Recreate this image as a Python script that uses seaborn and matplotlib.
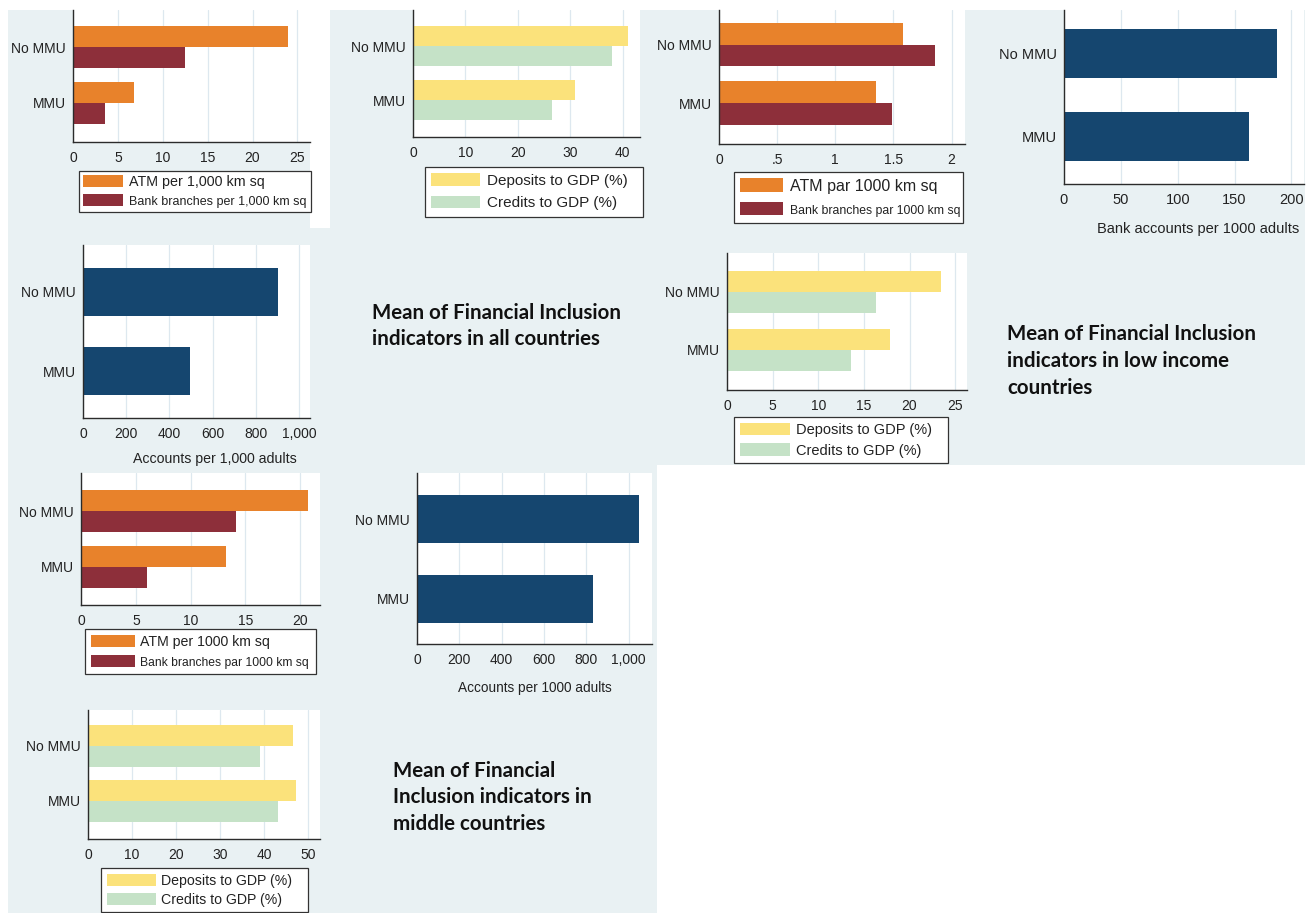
import numpy as np
import pandas as pd
import matplotlib
matplotlib.use("Agg")
import matplotlib.pyplot as plt
from matplotlib.patches import Rectangle, Patch
from matplotlib.ticker import FuncFormatter
import seaborn as sns

W, H = 1314, 913

groups = ["No MMU", "MMU"]

# all countries
atm_all = [23.9, 6.75]
branches_all = [12.5, 3.55]
deposits_all = [41.0, 30.9]
credits_all = [37.9, 26.6]
accounts_all = [900, 497]

# low income countries
atm_low = [1.58, 1.35]
branches_low = [1.86, 1.485]
deposits_low = [23.5, 17.9]
credits_low = [16.3, 13.6]
accounts_low = [187.5, 162.4]

# middle income countries
atm_mid = [20.7, 13.2]
branches_mid = [14.15, 6.0]
deposits_mid = [46.6, 47.2]
credits_mid = [39.1, 43.2]
accounts_mid = [1047, 829]

# colours (Stata s2color look)
ORANGE = "#e8822b"
MAROON = "#8d2f3a"
NAVY = "#15466f"
YELLOW = "#fbe27b"
GREEN = "#c5e2c7"
BG = "#e9f1f3"
GRID = "#dde8ef"
AXIS = "#2b2b2b"

sns.set_style("white")
plt.rcParams["font.family"] = ["Liberation Sans", "DejaVu Sans"]

fig = plt.figure(figsize=(W / 100, H / 100), dpi=100)
fig.patch.set_facecolor("white")


def px_rect(l, t, r, b):
    return [l / W, 1 - b / H, (r - l) / W, (b - t) / H]


# grey-blue graph regions behind the panels
for l, t, r, b, c in [(8, 10, 1305, 465, BG), (8, 465, 657, 913, BG),
                      (310, 0, 330, 228, "white")]:
    x, y, w, h = px_rect(l, t, r, b)
    fig.patches.append(Rectangle((x, y), w, h, transform=fig.transFigure,
                                 facecolor=c, edgecolor="none", zorder=-10))


def style_axes(ax, xmax, ticks, ylim, comma=False, labels=None, fs=10):
    ax.set_facecolor("white")
    ax.set_xlim(0, xmax)
    ax.set_ylim(*ylim)
    ax.set_xticks(ticks)
    if labels is not None:
        ax.set_xticklabels(labels)
    elif comma:
        ax.xaxis.set_major_formatter(FuncFormatter(lambda v, p: f"{v:,.0f}"))
    else:
        ax.xaxis.set_major_formatter(FuncFormatter(lambda v, p: f"{v:g}"))
    ax.xaxis.grid(True, color=GRID, lw=0.9)
    ax.yaxis.grid(False)
    ax.set_axisbelow(True)
    sns.despine(ax=ax)
    for s in ["left", "bottom"]:
        ax.spines[s].set_color(AXIS)
        ax.spines[s].set_linewidth(1.0)
    ax.tick_params(axis="x", length=4, width=0.9, color=AXIS, pad=2.5,
                   labelsize=fs, labelcolor="#222222")
    ax.tick_params(axis="y", length=0, pad=5, labelsize=fs, labelcolor="#222222")
    ax.set_xlabel("")
    ax.set_ylabel("")


def add_legend(ax, names, colors, box, sizes, swatch_px, spacing, pad):
    l, t, r = box
    fs_px = sizes[0] * 100 / 72
    handles = [Patch(facecolor=c, edgecolor="none") for c in colors]
    leg = ax.legend(handles, names, loc="upper left",
                    bbox_to_anchor=(l / W, 1 - t / H, (r - l) / W, 0),
                    bbox_transform=fig.transFigure, mode="expand",
                    frameon=True, fancybox=False, edgecolor="#333333",
                    facecolor="white", framealpha=1, fontsize=sizes[0],
                    handlelength=swatch_px / fs_px, handleheight=0.9,
                    handletextpad=0.4, labelspacing=spacing, borderpad=pad,
                    borderaxespad=0)
    for txt, s in zip(leg.get_texts(), sizes):
        txt.set_fontsize(s)
        txt.set_color("#222222")
    leg.get_frame().set_linewidth(0.9)


def grouped_panel(rect, a, b, names, colors, xmax, ticks, ylim, width,
                  legend_box, sizes, swatch_px, spacing, pad, labels=None):
    ax = fig.add_axes(px_rect(*rect))
    df = pd.DataFrame({"group": groups * 2,
                       "value": list(a) + list(b),
                       "series": [names[0]] * 2 + [names[1]] * 2})
    sns.barplot(data=df, x="value", y="group", hue="series", hue_order=names,
                palette=colors, orient="h", width=width, saturation=1,
                linewidth=0, legend=False, ax=ax)
    style_axes(ax, xmax, ticks, ylim, labels=labels)
    add_legend(ax, names, colors, legend_box, sizes, swatch_px, spacing, pad)
    return ax


def single_panel(rect, vals, xmax, ticks, ylim, width, xlabel, label_px,
                 label_size, comma=False, fs=10):
    ax = fig.add_axes(px_rect(*rect))
    df = pd.DataFrame({"group": groups, "value": vals})
    sns.barplot(data=df, x="value", y="group", color=NAVY, orient="h",
                width=width, saturation=1, linewidth=0, ax=ax)
    style_axes(ax, xmax, ticks, ylim, comma=comma, fs=fs)
    l, t, r, b = rect
    ax.set_xlabel(xlabel, fontsize=label_size, color="#222222")
    ax.xaxis.set_label_coords((label_px[0] - l) / (r - l),
                              -(label_px[1] - b) / (b - t))
    return ax


atm_names_all = ["ATM per 1,000 km sq", "Bank branches per 1,000 km sq"]
atm_names_low = ["ATM par 1000 km sq", "Bank branches par 1000 km sq"]
atm_names_mid = ["ATM per 1000 km sq", "Bank branches par 1000 km sq"]
gdp_names = ["Deposits to GDP (%)", "Credits to GDP (%)"]

# all countries
grouped_panel((73, 10, 310, 142), atm_all, branches_all, atm_names_all,
              [ORANGE, MAROON], 26.4, np.arange(0, 26, 5), (1.71, -0.67), 0.76,
              (79, 171, 311), [10.3, 9], 40, 0.35, 0.3)
grouped_panel((413, 10, 640, 137), deposits_all, credits_all, gdp_names,
              [YELLOW, GREEN], 43.3, np.arange(0, 41, 10), (1.685, -0.667), 0.74,
              (425, 167, 643), [11, 11], 49, 0.5, 0.42)
single_panel((83, 245, 310, 418), accounts_all, 1050, np.arange(0, 1001, 200),
             (1.59, -0.59), 0.61, "Accounts per 1,000 adults", (215, 452), 10.2,
             comma=True)

# low income countries
grouped_panel((719, 10, 965, 144), atm_low, branches_low, atm_names_low,
              [ORANGE, MAROON], 2.115, [0, 0.5, 1, 1.5, 2], (1.70, -0.59), 0.75,
              (734, 172, 963), [11.5, 8.8], 43, 0.5, 0.4,
              labels=["0", ".5", "1", "1.5", "2"])
single_panel((1064, 10, 1304, 184), accounts_low, 211, np.arange(0, 201, 50),
             (1.57, -0.52), 0.59, "Bank accounts per 1000 adults", (1198, 222), 10.5,
             fs=10.5)
grouped_panel((727, 253, 967, 390), deposits_low, credits_low, gdp_names,
              [YELLOW, GREEN], 26.3, np.arange(0, 26, 5), (1.69, -0.67), 0.72,
              (734, 417, 948), [10.5, 10.5], 50, 0.45, 0.4)

# middle income countries
grouped_panel((81, 473, 320, 605), atm_mid, branches_mid, atm_names_mid,
              [ORANGE, MAROON], 21.8, np.arange(0, 21, 5), (1.68, -0.68), 0.75,
              (85, 629, 316), [10.2, 8.7], 44, 0.45, 0.4)
single_panel((417, 473, 652, 644), accounts_mid, 1110, np.arange(0, 1001, 200),
             (1.57, -0.58), 0.6, "Accounts per 1000 adults", (535, 681), 9.8,
             comma=True)
grouped_panel((88, 710, 320, 839), deposits_mid, credits_mid, gdp_names,
              [YELLOW, GREEN], 52.7, np.arange(0, 51, 10), (1.69, -0.65), 0.75,
              (101, 868, 308), [10.2, 10.2], 49, 0.35, 0.4)

# captions
captions = [
    (372, [319, 345], ["Mean of Financial Inclusion", "indicators in all countries"]),
    (1007, [340, 367, 394], ["Mean of Financial Inclusion", "indicators in low income",
                             "countries"]),
    (393, [777, 803, 830], ["Mean of Financial", "Inclusion indicators in",
                            "middle countries"]),
]
for x0, ys, lines in captions:
    for yb, line in zip(ys, lines):
        fig.text(x0 / W, 1 - yb / H, line, fontsize=14.8, fontweight="bold",
                 family=["Lato", "DejaVu Sans"], color="#111111",
                 ha="left", va="baseline")

fig.savefig("out.png", dpi=100, facecolor=fig.get_facecolor())
